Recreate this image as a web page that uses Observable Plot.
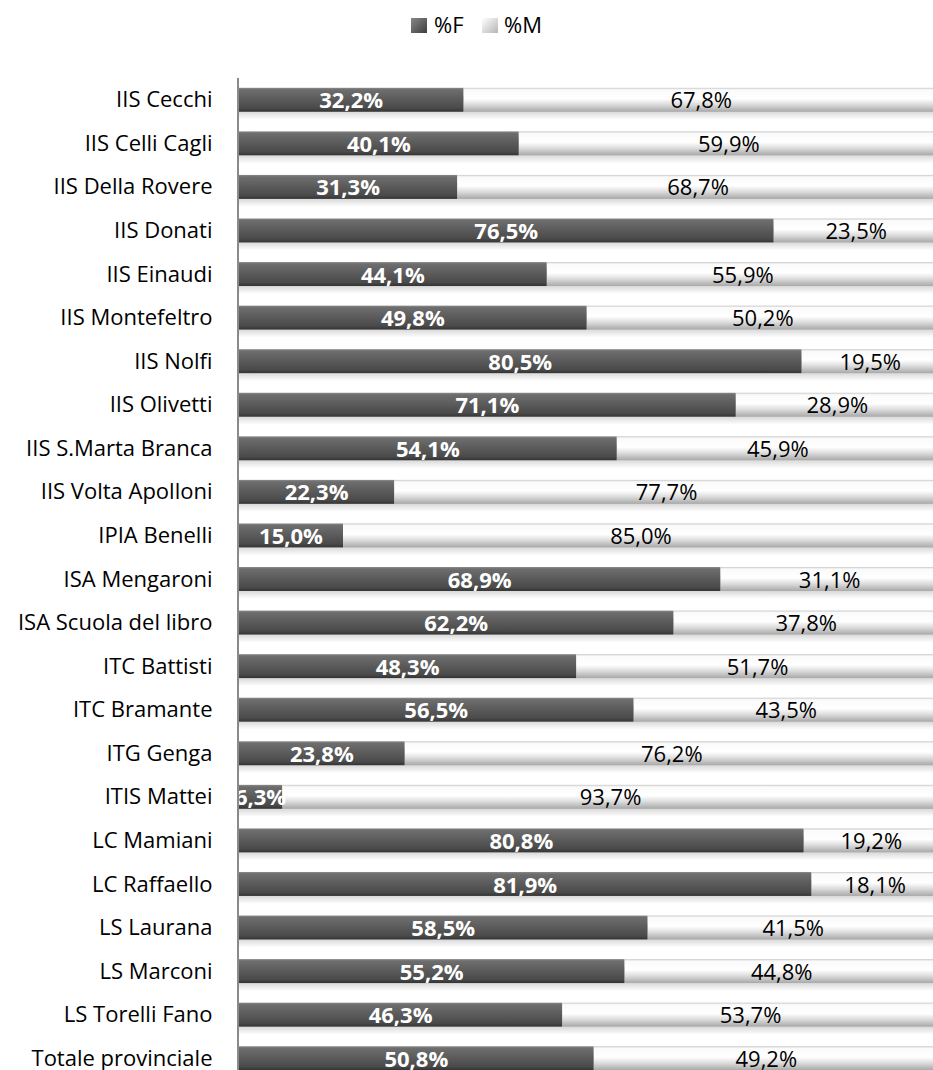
<!DOCTYPE html>
<html><head><meta charset="utf-8">
<script src="https://cdn.jsdelivr.net/npm/d3@7"></script>
<script src="https://cdn.jsdelivr.net/npm/@observablehq/plot@0.6"></script>
<style>
html,body{margin:0;background:#fff;overflow:hidden;font-family:"Open Sans",sans-serif;}
#legend{height:78px;position:relative;font-size:22px;line-height:22px;}
.sw{position:absolute;top:18px;width:16px;height:15px;}
.lt{position:absolute;top:13px;}
</style></head><body>
<div id="legend">
  <div class="sw" style="left:411px;background:linear-gradient(135deg,#888,#3e3e3e);"></div><div class="lt" style="left:434px">%F</div>
  <div class="sw" style="left:482px;background:linear-gradient(135deg,#fff,#b5b5b5);"></div><div class="lt" style="left:504px">%M</div>
</div>
<div id="chart"></div>
<script>
const schools = ["IIS Cecchi","IIS Celli Cagli","IIS Della Rovere","IIS Donati","IIS Einaudi","IIS Montefeltro","IIS Nolfi","IIS Olivetti","IIS S.Marta Branca","IIS Volta Apolloni","IPIA Benelli","ISA Mengaroni","ISA Scuola del libro","ITC Battisti","ITC Bramante","ITG Genga","ITIS Mattei","LC Mamiani","LC Raffaello","LS Laurana","LS Marconi","LS Torelli Fano","Totale provinciale"];
const pctF = [32.2,40.1,31.3,76.5,44.1,49.8,80.5,71.1,54.1,22.3,15.0,68.9,62.2,48.3,56.5,23.8,6.3,80.8,81.9,58.5,55.2,46.3,50.8];
const pctM = [67.8,59.9,68.7,23.5,55.9,50.2,19.5,28.9,45.9,77.7,85.0,31.1,37.8,51.7,43.5,76.2,93.7,19.2,18.1,41.5,44.8,53.7,49.2];

const rows = [];
schools.forEach((s,i)=>{
  rows.push({school:s, sex:"%F", v:pctF[i], x1:0, x2:pctF[i]});
  rows.push({school:s, sex:"%M", v:pctM[i], x1:pctF[i], x2:pctF[i]+pctM[i]});
});
const fmt = v => v.toFixed(1).replace(".",",") + "%";
const F = rows.filter(d=>d.sex==="%F"), M = rows.filter(d=>d.sex==="%M");

const plot = Plot.plot({
  width: 933, height: 1002,
  marginLeft: 238, marginRight: 0, marginTop: 0, marginBottom: 0,
  style: {fontFamily: "'Open Sans', sans-serif", fontSize: "22px", color: "#000", background: "#fff", overflow: "visible", maxWidth: "none"},
  x: {domain: [0,100], range: [238, 938], axis: null},
  y: {domain: schools, paddingInner: 0.45, paddingOuter: 0.225, round: false, label: null},
  marks: [
    Plot.barX(rows, {x1:"x1", x2:"x2", y:"school", dy: 8, fill: "url(#shadow)"}),
    Plot.barX(M, {x1:"x1", x2:"x2", y:"school", fill: "url(#gM)"}),
    Plot.barX(F, {x1:"x1", x2:"x2", y:"school", fill: "url(#gF)"}),
    Plot.text(F, {x: d=>(d.x1+d.x2)/2, y:"school", text: d=>fmt(d.v), fill:"#fff", fontWeight:"bold", fontSize: 22, dy: 1, clip: true}),
    Plot.text(M, {x: d=>(d.x1+d.x2)/2, y:"school", text: d=>fmt(d.v), fill:"#000", fontSize: 22, dy: 1}),
    Plot.axisY({tickSize: 0, tickPadding: 26, fontSize: 22, label: null}),
    Plot.ruleX([0], {stroke: "#8a8a8a", strokeWidth: 2, dx: -0.5})
  ]
});
plot.insertAdjacentHTML("afterbegin", `<defs>
<linearGradient id="gF" x1="0" y1="0" x2="0" y2="1">
 <stop offset="0" stop-color="#8a8a8a"/><stop offset="0.08" stop-color="#6e6e6e"/>
 <stop offset="0.5" stop-color="#5a5a5a"/><stop offset="0.85" stop-color="#4a4a4a"/><stop offset="1" stop-color="#333"/>
</linearGradient>
<linearGradient id="gM" x1="0" y1="0" x2="0" y2="1">
 <stop offset="0" stop-color="#c8c8c8"/><stop offset="0.08" stop-color="#fafafa"/>
 <stop offset="0.45" stop-color="#ffffff"/><stop offset="0.7" stop-color="#dcdcdc"/><stop offset="1" stop-color="#a8a8a8"/>
</linearGradient>
<linearGradient id="shadow" x1="0" y1="0" x2="0" y2="1">
 <stop offset="0.6" stop-color="#000" stop-opacity="0.18"/><stop offset="1" stop-color="#000" stop-opacity="0"/>
</linearGradient>
</defs>`);
document.getElementById("chart").appendChild(plot);
</script>
</body></html>
